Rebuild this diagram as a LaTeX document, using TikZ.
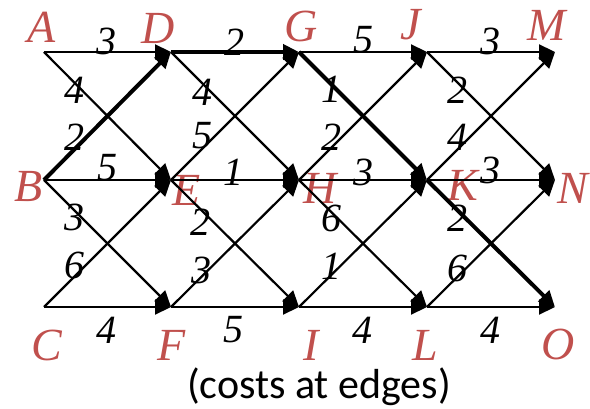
\documentclass[tikz,border=0pt]{standalone}
\usepackage{fontspec}
\setmainfont{Liberation Serif}
\newfontfamily\capfont{Carlito}
\usetikzlibrary{arrows.meta}
\definecolor{lblred}{HTML}{C0504D}
\begin{document}
\begin{tikzpicture}[x=1pt,y=-1pt,
  edge/.style={line width=2.2pt, -{Triangle[length=16pt,width=15pt]}},
  best/.style={edge, line width=4pt},
  vname/.style={text=lblred, font=\fontsize{46}{46}\selectfont\itshape, inner sep=0pt},
  cost/.style={font=\fontsize{40}{40}\selectfont\itshape, inner sep=0pt}]
\useasboundingbox (0,0) rectangle (590,409);
% vertices
\coordinate (A) at (44,52);  \coordinate (D) at (171,52);  \coordinate (G) at (299,52);  \coordinate (J) at (427,52);  \coordinate (M) at (555,52);
\coordinate (B) at (44,180); \coordinate (E) at (171,180); \coordinate (H) at (299,180); \coordinate (K) at (427,180); \coordinate (N) at (555,180);
\coordinate (C) at (44,307); \coordinate (F) at (171,307); \coordinate (I) at (299,307); \coordinate (L) at (427,307); \coordinate (O) at (555,307);
% vertex names
\node[vname] (nA) at (42,27) {A};
\node[vname] (nD) at (158,28) {D};
\node[vname] (nG) at (301,26) {G};
\node[vname] (nJ) at (411,25) {J};
\node[vname] (nM) at (547,25) {M};
\node[vname] (nB) at (29,187) {B};
\node[vname] (nE) at (187,190) {E};
\node[vname] (nH) at (320,188) {H};
\node[vname] (nK) at (463,185) {K};
\node[vname] (nN) at (573,188) {N};
\node[vname] (nC) at (47,345) {C};
\node[vname] (nF) at (172,345) {F};
\node[vname] (nI) at (311,345) {I};
\node[vname] (nL) at (425,345) {L};
\node[vname] (nO) at (558,344) {O};
% edges
\draw[edge] (A) -- (D);
\draw[edge] (A) -- (E);
\draw[edge] (B) -- (E);
\draw[edge] (B) -- (F);
\draw[edge] (C) -- (E);
\draw[edge] (C) -- (F);
\draw[edge] (D) -- (H);
\draw[edge] (E) -- (G);
\draw[edge] (E) -- (H);
\draw[edge] (E) -- (I);
\draw[edge] (F) -- (H);
\draw[edge] (F) -- (I);
\draw[edge] (G) -- (J);
\draw[edge] (H) -- (J);
\draw[edge] (H) -- (K);
\draw[edge] (H) -- (L);
\draw[edge] (I) -- (K);
\draw[edge] (I) -- (L);
\draw[edge] (J) -- (M);
\draw[edge] (J) -- (N);
\draw[edge] (K) -- (M);
\draw[edge] (K) -- (N);
\draw[edge] (L) -- (N);
\draw[edge] (L) -- (O);
\draw[best] (B) -- (D);
\draw[best] (D) -- (G);
\draw[best] (G) -- (K);
\draw[best] (K) -- (O);
% costs
\node[cost] (cAD) at (106,41) {3};
\node[cost] (cAE) at (74,90) {4};
\node[cost] (cBD) at (74,137) {2};
\node[cost] (cBE) at (107,168) {5};
\node[cost] (cBF) at (74,217) {3};
\node[cost] (cCE) at (74,265) {6};
\node[cost] (cCF) at (106,330) {4};
\node[cost] (cDG) at (234,42) {2};
\node[cost] (cDH) at (202,92) {4};
\node[cost] (cEG) at (202,136) {5};
\node[cost] (cEH) at (233,172) {1};
\node[cost] (cEI) at (200,222) {2};
\node[cost] (cFH) at (201,270) {3};
\node[cost] (cFI) at (233,330) {5};
\node[cost] (cGJ) at (363,40) {5};
\node[cost] (cGK) at (331,89) {1};
\node[cost] (cHJ) at (331,137) {2};
\node[cost] (cHK) at (363,172) {3};
\node[cost] (cHL) at (331,218) {6};
\node[cost] (cIK) at (331,266) {1};
\node[cost] (cIL) at (362,330) {4};
\node[cost] (cJM) at (490,41) {3};
\node[cost] (cJN) at (457,90) {2};
\node[cost] (cKM) at (457,137) {4};
\node[cost] (cKN) at (490,170) {3};
\node[cost] (cKO) at (457,218) {2};
\node[cost] (cLN) at (457,268) {6};
\node[cost] (cLO) at (490,330) {4};
% caption
\node[font=\capfont\fontsize{42}{42}\selectfont, inner sep=0pt] (cap) at (319,387) {(costs at edges)};
\end{tikzpicture}
\end{document}
